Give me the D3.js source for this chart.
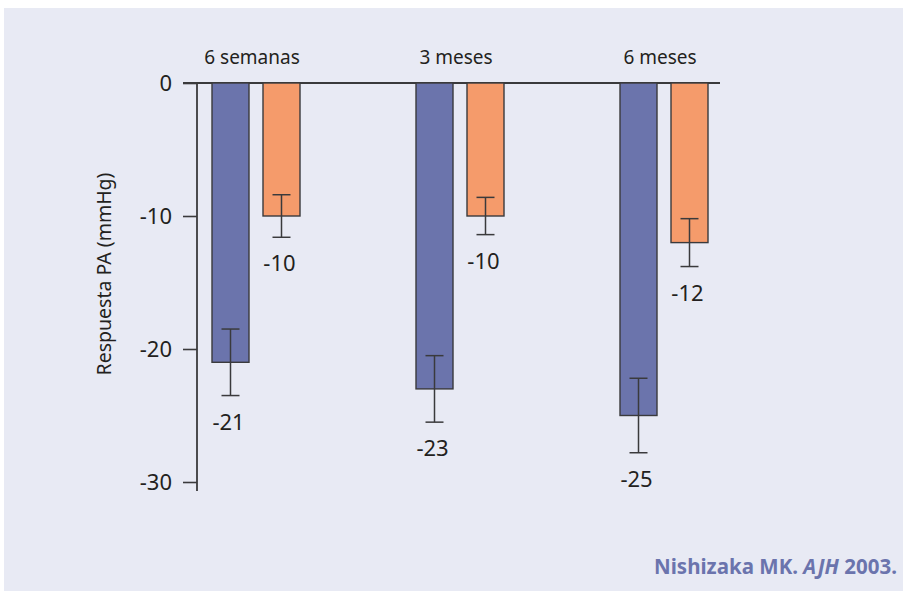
<!DOCTYPE html>
<html>
<head>
<meta charset="utf-8">
<script src="https://cdn.jsdelivr.net/npm/d3@7/dist/d3.min.js"></script>
<style>
  html, body { margin: 0; padding: 0; background: #ffffff; }
  svg { display: block; }
  text { font-family: "Noto Sans", "DejaVu Sans", sans-serif; fill: #231f20; }
</style>
</head>
<body>
<svg id="chart" width="903" height="591"></svg>
<script>
// Respuesta de la presión arterial a espironolactona (sistólica / diastólica)
const periodos = ["6 semanas", "3 meses", "6 meses"];
const series = ["sistolica", "diastolica"];
const sistolica = [-21, -23, -25];
const diastolica = [-10, -10, -12];
const errorSistolica = [2.5, 2.5, 2.8];
const errorDiastolica = [1.6, 1.4, 1.8];
const yTicks = [0, -10, -20, -30];
const yTitle = "Respuesta PA (mmHg)";

const colores = { sistolica: "#6b74ac", diastolica: "#f59b6b" };

// plain hyphen for negative numbers
const fmt = v => String(v);

const rows = periodos.map((p, i) => ({
  periodo: p,
  valores: [
    { serie: "sistolica", valor: sistolica[i], error: errorSistolica[i] },
    { serie: "diastolica", valor: diastolica[i], error: errorDiastolica[i] }
  ]
}));

const svg = d3.select("#chart");

// panel background
svg.append("rect")
  .attr("x", 4).attr("y", 8)
  .attr("width", 899).attr("height", 583)
  .attr("fill", "#e8eaf4");

const y = d3.scaleLinear().domain([0, -30]).range([83, 482]);
const x0 = d3.scaleBand().domain(periodos).range([154, 766]).padding(0);
const x1 = d3.scaleBand().domain(series).range([-44, 44]).paddingInner(0.2745);

const axisX = 197;
const ink = "#3a3a3c";

// y axis
const yAxis = d3.axisLeft(y).tickValues(yTicks).tickSize(14).tickPadding(11).tickFormat(fmt);
const gy = svg.append("g").attr("transform", `translate(${axisX},0)`).call(yAxis);
gy.select(".domain").remove();
gy.selectAll(".tick line").attr("stroke", ink).attr("stroke-width", 1.6);
gy.selectAll(".tick text")
  .style("font-family", '"Noto Sans", sans-serif')
  .style("font-size", "22px")
  .attr("dy", "0.36em")
  .attr("fill", "#231f20");
gy.append("line")
  .attr("x1", 0).attr("x2", 0)
  .attr("y1", y(0)).attr("y2", 491)
  .attr("stroke", ink).attr("stroke-width", 1.8);

// zero baseline
svg.append("line")
  .attr("x1", 183).attr("x2", 720)
  .attr("y1", y(0)).attr("y2", y(0))
  .attr("stroke", ink).attr("stroke-width", 1.8);

// y title
svg.append("text")
  .attr("transform", `translate(111, ${274}) rotate(-90)`)
  .attr("text-anchor", "middle")
  .style("font-size", "19.5px")
  .text(yTitle);

// category labels
svg.selectAll(".periodo")
  .data(periodos)
  .join("text")
  .attr("class", "periodo")
  .attr("x", d => x0(d) + x0.bandwidth() / 2 - 4)
  .attr("y", 64)
  .attr("text-anchor", "middle")
  .style("font-size", "19px")
  .text(d => d);

const grupos = svg.selectAll(".grupo")
  .data(rows)
  .join("g")
  .attr("class", "grupo")
  .attr("transform", d => `translate(${x0(d.periodo) + x0.bandwidth() / 2},0)`);

const barras = grupos.selectAll(".barra")
  .data(d => d.valores)
  .join("g")
  .attr("class", "barra");

barras.append("rect")
  .attr("x", d => x1(d.serie))
  .attr("y", d => y(0))
  .attr("width", x1.bandwidth())
  .attr("height", d => y(d.valor) - y(0))
  .attr("fill", d => colores[d.serie])
  .attr("stroke", ink)
  .attr("stroke-width", 1.4);

// error bars
const cap = 9;
const cx = d => x1(d.serie) + x1.bandwidth() / 2;
barras.append("line")
  .attr("x1", cx).attr("x2", cx)
  .attr("y1", d => y(d.valor + d.error))
  .attr("y2", d => y(d.valor - d.error))
  .attr("stroke", ink).attr("stroke-width", 1.5);
barras.append("line")
  .attr("x1", d => cx(d) - cap).attr("x2", d => cx(d) + cap)
  .attr("y1", d => y(d.valor + d.error))
  .attr("y2", d => y(d.valor + d.error))
  .attr("stroke", ink).attr("stroke-width", 1.5);
barras.append("line")
  .attr("x1", d => cx(d) - cap).attr("x2", d => cx(d) + cap)
  .attr("y1", d => y(d.valor - d.error))
  .attr("y2", d => y(d.valor - d.error))
  .attr("stroke", ink).attr("stroke-width", 1.5);

// value labels
barras.append("text")
  .attr("x", d => cx(d) - 2)
  .attr("y", d => y(d.valor - d.error) + 34)
  .attr("text-anchor", "middle")
  .style("font-size", "22px")
  .text(d => fmt(d.valor));

// source
const fuente = svg.append("text")
  .attr("x", 897).attr("y", 574)
  .attr("text-anchor", "end")
  .style("font-size", "20.5px")
  .style("font-weight", "bold");
fuente.append("tspan").attr("fill", "#6b74ad").text("Nishizaka MK. ");
fuente.append("tspan").attr("fill", "#6b74ad").style("font-style", "italic").text("AJH");
fuente.append("tspan").attr("fill", "#6b74ad").text(" 2003.");
</script>
</body>
</html>
